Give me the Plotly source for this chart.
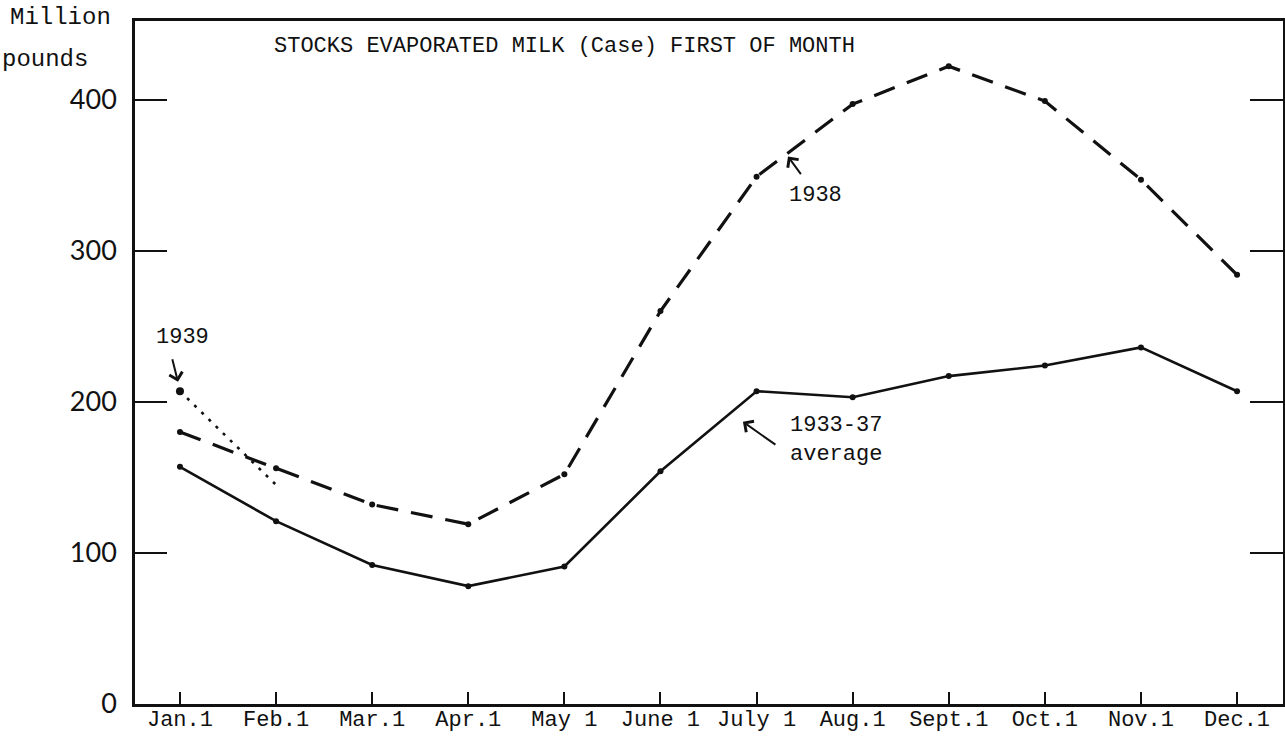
import plotly.graph_objects as go

months = ["Jan.1", "Feb.1", "Mar.1", "Apr.1", "May 1", "June 1",
          "July 1", "Aug.1", "Sept.1", "Oct.1", "Nov.1", "Dec.1"]
avg_1933_37 = [157, 121, 92, 78, 91, 154, 207, 203, 217, 224, 236, 207]
stocks_1938 = [180, 156, 132, 119, 152, 260, 349, 397, 422, 399, 347, 284]
stocks_1939 = [207, 145]
y_ticks = [0, 100, 200, 300, 400]

xpos = list(range(len(months)))
MONO = "Liberation Mono"
INK = "#111111"

fig = go.Figure()

fig.add_trace(go.Scatter(
    x=xpos, y=avg_1933_37, mode="lines+markers",
    line=dict(color=INK, width=2.6),
    marker=dict(color=INK, size=6),
    showlegend=False, name="1933-37 average"))

fig.add_trace(go.Scatter(
    x=xpos, y=stocks_1938, mode="lines+markers",
    line=dict(color=INK, width=3.2, dash="22px,13px"),
    marker=dict(color=INK, size=6),
    showlegend=False, name="1938"))

fig.add_trace(go.Scatter(
    x=xpos[:len(stocks_1939)], y=stocks_1939, mode="lines",
    line=dict(color=INK, width=2.6, dash="3px,7px"),
    showlegend=False, name="1939"))
fig.add_trace(go.Scatter(
    x=xpos[:1], y=stocks_1939[:1], mode="markers",
    marker=dict(color=INK, size=8),
    showlegend=False, hoverinfo="skip"))

# invisible trace for right-side axis ticks
fig.add_trace(go.Scatter(x=[0], y=[0], yaxis="y2", mode="markers",
                         marker=dict(opacity=0), showlegend=False, hoverinfo="skip"))

fig.update_layout(
    width=1285, height=738,
    margin=dict(l=135, r=2, t=21, b=34, autoexpand=False),
    paper_bgcolor="white", plot_bgcolor="white",
    xaxis=dict(
        range=[-0.468, 11.478], tickmode="array", tickvals=xpos, ticktext=months,
        ticks="inside", ticklen=12, tickwidth=1.6, tickcolor=INK,
        showline=True, linewidth=2.6, linecolor=INK, mirror=True,
        showgrid=False, zeroline=False, automargin=False,
        ticklabelstandoff=-7,
        tickfont=dict(family=MONO, size=22, color=INK),
    ),
    yaxis=dict(
        range=[0, 452], tickmode="array", tickvals=y_ticks,
        ticks="inside", ticklen=32, tickwidth=2, tickcolor=INK,
        showline=True, linewidth=2.6, linecolor=INK, mirror=True,
        showgrid=False, zeroline=False, ticklabelstandoff=10, automargin=False,
        tickfont=dict(family="Lato", size=27, color=INK),
    ),
    yaxis2=dict(
        range=[0, 452], overlaying="y", side="right", tickmode="array",
        tickvals=y_ticks[1:], showticklabels=False,
        ticks="inside", ticklen=33, tickwidth=2, tickcolor=INK,
        showline=False, showgrid=False, zeroline=False, automargin=False,
    ),
)

annotations = [
    dict(x=4.0, y=435, text="STOCKS EVAPORATED MILK (Case) FIRST OF MONTH",
         xanchor="center", yanchor="middle"),
    dict(xref="paper", yref="paper", x=(8 - 135) / 1148, y=(704 - 17) / 683,
         text="Million", xanchor="left", yanchor="middle", font=dict(family=MONO, size=24, color=INK)),
    dict(xref="paper", yref="paper", x=(0 - 135) / 1148, y=(704 - 60) / 683,
         text="pounds", xanchor="left", yanchor="middle", font=dict(family=MONO, size=24, color=INK)),
    dict(x=0.031, y=242.4, text="1939", xanchor="center", yanchor="middle"),
    dict(x=6.618, y=336.4, text="1938", xanchor="center", yanchor="middle"),
    dict(x=6.327, y=174.8, text="1933-37<br>average", xanchor="left", yanchor="middle", align="left"),
]
for a in annotations:
    a.setdefault("font", dict(family=MONO, size=22, color=INK))
    a["showarrow"] = False
    fig.add_annotation(**a)

arrows = [
    dict(x=-0.021, y=213.2, ax=-6, ay=-24),
    dict(x=6.327, y=362.3, ax=14, ay=19),
    dict(x=5.858, y=186.8, ax=34, ay=24),
]
for a in arrows:
    fig.add_annotation(text="", showarrow=True, arrowhead=4, arrowsize=1.3,
                       arrowwidth=2, arrowcolor=INK, **a)

fig.write_html("out.html", config={"displayModeBar": False},
               post_script="document.body.style.margin='0';document.body.style.overflow='hidden';")
